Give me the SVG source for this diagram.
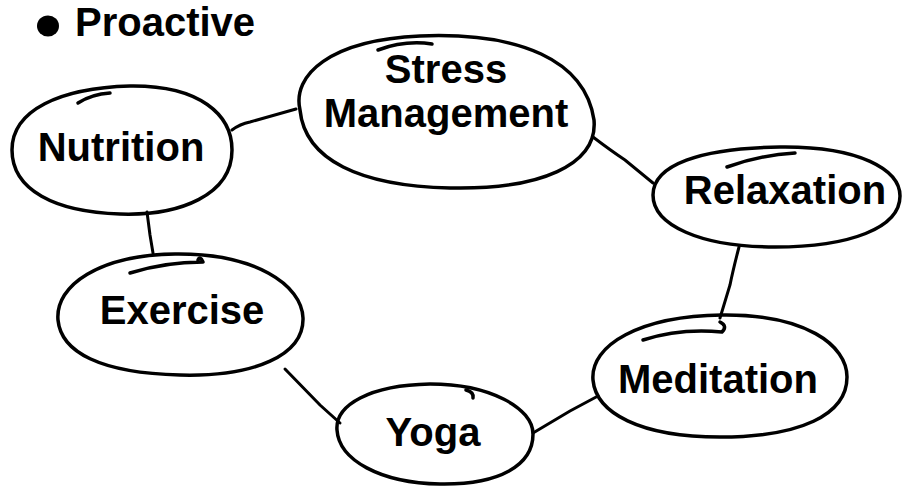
<svg xmlns="http://www.w3.org/2000/svg" width="907" height="487" viewBox="0 0 907 487">
<style>
.o{fill:none;stroke:#000;stroke-width:3.5;stroke-linecap:round;stroke-linejoin:round}
.c{fill:none;stroke:#000;stroke-width:3;stroke-linecap:round}
.t{font-family:"Liberation Sans",Arial,Helvetica,sans-serif;font-weight:bold;font-size:40px;fill:#000;text-anchor:middle}
</style>
<rect width="907" height="487" fill="#fff"/>
<g id="title">
<ellipse cx="48" cy="26" rx="11" ry="10.5" fill="#000"/>
<text x="75" y="36" class="t" style="text-anchor:start">Proactive</text>
</g>
<g id="connectors">
<path class="c" d="M232,130 Q240,124 250,122 L296,109"/>
<path class="c" d="M593,137 Q610,150 625,160 L653,183"/>
<path class="c" d="M739,247 Q733,270 730,285 L720,318"/>
<path class="c" d="M598,396 L570,411 L533,433"/>
<path class="c" d="M285,369 L320,405 L340,423"/>
<path class="c" d="M147,212 L150,235 L153,253"/>
</g>
<g id="stress">
<path class="o" d="M300,110 C292,75 330,40 420,36 C520,32 585,60 594,120 C598,165 540,190 450,188 C360,186 305,160 300,110 Z"/>
<path class="o" d="M378,50 Q405,40 432,44"/>
<text x="446" y="83" class="t">Stress</text>
<text x="446" y="127" class="t">Management</text>
</g>
<g id="nutrition">
<path class="o" d="M12,150 C12,110 60,88 130,86 C200,85 232,115 232,150 C232,195 180,216 120,214 C55,212 12,190 12,150 Z"/>
<path class="o" d="M78,103 Q92,94 110,93"/>
<text x="121" y="161" class="t">Nutrition</text>
</g>
<g id="relaxation">
<path class="o" d="M653,195 C653,165 700,148 780,147 C860,146 900,170 900,196 C900,228 850,247 775,247 C700,247 653,225 653,195 Z"/>
<path class="o" d="M727,167 Q760,155 795,153"/>
<text x="785" y="204" class="t">Relaxation</text>
</g>
<g id="exercise">
<path class="o" d="M58,320 C55,285 100,255 175,254 C255,253 302,285 303,318 C304,355 255,377 180,375 C100,373 61,352 58,320 Z"/>
<path class="o" d="M130,273 Q165,262 203,262 M203,262 Q200,255 198,260"/>
<text x="182" y="324" class="t">Exercise</text>
</g>
<g id="meditation">
<path class="o" d="M593,380 C590,345 640,316 722,315 C805,314 847,345 847,377 C847,415 800,437 720,437 C640,437 596,413 593,380 Z"/>
<path class="o" d="M643,340 Q680,328 722,332 Q728,326 720,322"/>
<text x="718" y="393" class="t">Meditation</text>
</g>
<g id="yoga">
<path class="o" d="M337,430 C335,405 370,385 430,384 C490,384 533,408 533,434 C533,465 500,485 440,484 C380,483 339,460 337,430 Z"/>
<path class="o" d="M466,390 Q474,392 473,398"/>
<text x="433" y="446" class="t">Yoga</text>
</g>
</svg>
